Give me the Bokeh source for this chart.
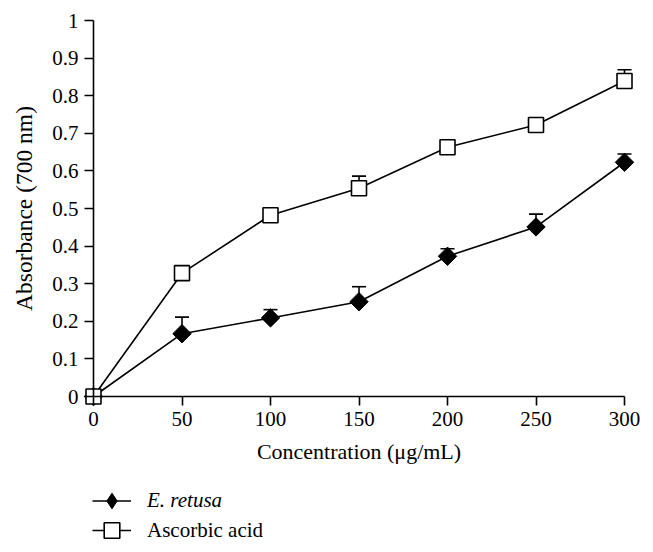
import math
from bokeh.plotting import figure
from bokeh.models import ColumnDataSource, Whisker, TeeHead, Legend, LegendItem, Range1d, FixedTicker
from bokeh.embed import file_html
from bokeh.resources import INLINE

conc = [0, 50, 100, 150, 200, 250, 300]
retusa = [0.0, 0.167, 0.209, 0.252, 0.373, 0.451, 0.623]
retusa_err = [0.0, 0.044, 0.022, 0.040, 0.020, 0.034, 0.022]
ascorbic = [0.0, 0.328, 0.482, 0.554, 0.663, 0.722, 0.839]
ascorbic_err = [0.0, 0.008, 0.008, 0.032, 0.020, 0.008, 0.030]
x_ticks = [0, 50, 100, 150, 200, 250, 300]
y_ticks = [0, 0.1, 0.2, 0.3, 0.4, 0.5, 0.6, 0.7, 0.8, 0.9, 1]
y_labels = {0: "0", 0.1: "0.1", 0.2: "0.2", 0.3: "0.3", 0.4: "0.4", 0.5: "0.5",
            0.6: "0.6", 0.7: "0.7", 0.8: "0.8", 0.9: "0.9", 1: "1"}

FONT = "Liberation Serif"

# layout (pixels on the canvas)
W, H = 645, 550
X0_PX, X300_PX = 93, 624      # where x=0 and x=300 sit
Y0_PX, Y1_PX = 396, 20        # where y=0 and y=1 sit
ppx = (X300_PX - X0_PX) / 300.0
ppy = (Y0_PX - Y1_PX) / 1.0

src_r = ColumnDataSource(dict(x=conc, y=retusa, up=[a + b for a, b in zip(retusa, retusa_err)]))
src_a = ColumnDataSource(dict(x=conc, y=ascorbic, up=[a + b for a, b in zip(ascorbic, ascorbic_err)]))

p = figure(frame_width=W, frame_height=H, min_border=0,
           min_border_left=0, min_border_right=0, min_border_top=0, min_border_bottom=0,
           x_range=Range1d(-X0_PX / ppx, (W - X0_PX) / ppx),
           y_range=Range1d(-(H - Y0_PX) / ppy, Y0_PX / ppy),
           output_backend="svg", toolbar_location=None, tools="")
p.grid.visible = False
p.outline_line_color = None
p.background_fill_color = "white"
p.border_fill_color = "white"

for ax in (p.xaxis[0], p.yaxis[0]):
    ax.fixed_location = 0
    ax.axis_line_width = 1.6
    ax.axis_line_color = "black"
    ax.major_tick_line_width = 1.6
    ax.major_tick_line_color = "black"
    ax.major_tick_out = 9
    ax.major_tick_in = 0
    ax.minor_tick_line_color = None
    ax.major_label_text_font = FONT
    ax.major_label_text_font_size = "21px"
    ax.major_label_text_color = "black"
    ax.axis_label_text_font = FONT
    ax.axis_label_text_font_style = "normal"
    ax.axis_label_text_color = "black"

p.xaxis.axis_label_text_font_size = "22px"
p.yaxis.axis_label_text_font_size = "23.5px"
p.xaxis.bounds = (0, 300)
p.yaxis.bounds = (0, 1)
p.xaxis.ticker = FixedTicker(ticks=x_ticks)
p.yaxis.ticker = FixedTicker(ticks=y_ticks)
p.yaxis.major_label_overrides = y_labels
p.xaxis.axis_label = "Concentration (μg/mL)"
p.yaxis.axis_label = "Absorbance (700 nm)"
p.xaxis.major_label_standoff = 6
p.yaxis.major_label_standoff = 6
p.xaxis.axis_label_standoff = 10
p.yaxis.axis_label_standoff = 12

for src in (src_r, src_a):
    w = Whisker(source=src, base="x", lower="y", upper="up", dimension="height",
                line_width=1.6, line_color="black", lower_head=None,
                upper_head=TeeHead(size=14, line_width=1.6, line_color="black"),
                level="underlay")
    p.add_layout(w)

lr = p.line("x", "y", source=src_r, line_color="black", line_width=1.6)
# diamond key glyph (hidden under the rotated squares; used for the legend key,
# since legend keys do not follow a marker's angle)
kr = p.scatter("x", "y", source=src_r, marker="diamond", size=15,
               fill_color="black", line_color="black", line_width=1)
mr = p.scatter("x", "y", source=src_r, marker="square", angle=math.pi / 4, size=13,
               fill_color="black", line_color="black", line_width=1)
la = p.line("x", "y", source=src_a, line_color="black", line_width=1.6)
ma = p.scatter("x", "y", source=src_a, marker="square", size=15,
               fill_color="white", line_color="black", line_width=1.6)

leg1 = Legend(items=[LegendItem(label="E. retusa", renderers=[lr, kr])],
              location=(92, 27), orientation="vertical",
              glyph_width=39, glyph_height=45, label_standoff=16, padding=0, margin=0,
              border_line_color=None, background_fill_alpha=0,
              label_text_font=FONT, label_text_font_size="21px",
              label_text_color="black", label_text_font_style="italic")
leg2 = Legend(items=[LegendItem(label="Ascorbic acid", renderers=[la, ma])],
              location=(92, 0), orientation="vertical",
              glyph_width=39, glyph_height=40, label_standoff=16, padding=0, margin=0,
              border_line_color=None, background_fill_alpha=0,
              label_text_font=FONT, label_text_font_size="21px",
              label_text_color="black")
p.add_layout(leg1, "center")
p.add_layout(leg2, "center")

open("out.html", "w").write(file_html(p, INLINE))
